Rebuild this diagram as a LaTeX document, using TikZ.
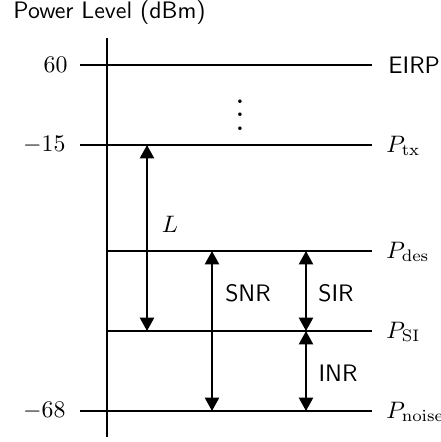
\documentclass[tikz,border=0pt]{standalone}
\usepackage{amsmath,amssymb}
\usepackage{tikz}
\usetikzlibrary{arrows.meta,positioning}

\begin{document}
\begin{tikzpicture}[x=0.42pt,y=-0.42pt,
  level/.style={line width=0.9pt},
  gap/.style={line width=0.9pt,{Triangle[width=5.9pt,length=5.6pt]}-{Triangle[width=5.9pt,length=5.6pt]}},
  tag/.style={font=\sffamily,inner sep=0pt}]
\useasboundingbox (0,0) rectangle (441,442);

% axis and title
\node[tag,anchor=west] (title) at (13,13) {Power Level (dBm)};
\coordinate (top) at (107,38);
\coordinate (bot) at (107,437);
\draw[level] (top) -- (bot);

% power levels
\coordinate (eirpL) at (80,65);    \coordinate (eirpR) at (372,65);
\coordinate (txL) at (80,145);     \coordinate (txR) at (372,145);
\coordinate (desL) at (107,251);   \coordinate (desR) at (372,251);
\coordinate (siL) at (107,331);    \coordinate (siR) at (372,331);
\coordinate (noiseL) at (80,411);  \coordinate (noiseR) at (372,411);
\draw[level] (eirpL) -- (eirpR);
\draw[level] (txL) -- (txR);
\draw[level] (desL) -- (desR);
\draw[level] (siL) -- (siR);
\draw[level] (noiseL) -- (noiseR);

\node[anchor=east,inner sep=0pt] (v60) at (68,65) {$60$};
\node[anchor=east,inner sep=0pt] (v15) at (66,145) {$-15$};
\node[anchor=east,inner sep=0pt] (v68) at (66,411) {$-68$};

\node[tag,anchor=west] (eirp) at (388,65) {EIRP};
\node[anchor=west,inner sep=0pt] (ptx) at (386,146) {$P_{\mathrm{tx}}$};
\node[anchor=west,inner sep=0pt] (pdes) at (386,252) {$P_{\mathrm{des}}$};
\node[anchor=west,inner sep=0pt] (psi) at (386,332) {$P_{\mathrm{SI}}$};
\node[anchor=west,inner sep=0pt] (pnoise) at (386,412) {$P_{\mathrm{noise}}$};

\node[scale=1.4,inner sep=0pt] (dots) at (240,105) {$\vdots$};

% differences
\coordinate (lA) at (147,145);  \coordinate (lB) at (147,331);
\coordinate (snrA) at (212,251); \coordinate (snrB) at (212,411);
\coordinate (sirA) at (306,251); \coordinate (sirB) at (306,331);
\coordinate (inrB) at (306,411);
\draw[gap] (lA) -- (lB);
\draw[gap] (snrA) -- (snrB);
\draw[gap] (sirA) -- (sirB);
\draw[gap] (sirB) -- (inrB);

\node[inner sep=0pt] (l) at (170,224) {$L$};
\node[tag] (snr) at (248,293) {SNR};
\node[tag] (sir) at (336,293) {SIR};
\node[tag] (inr) at (338,373) {INR};
\end{tikzpicture}
\end{document}
